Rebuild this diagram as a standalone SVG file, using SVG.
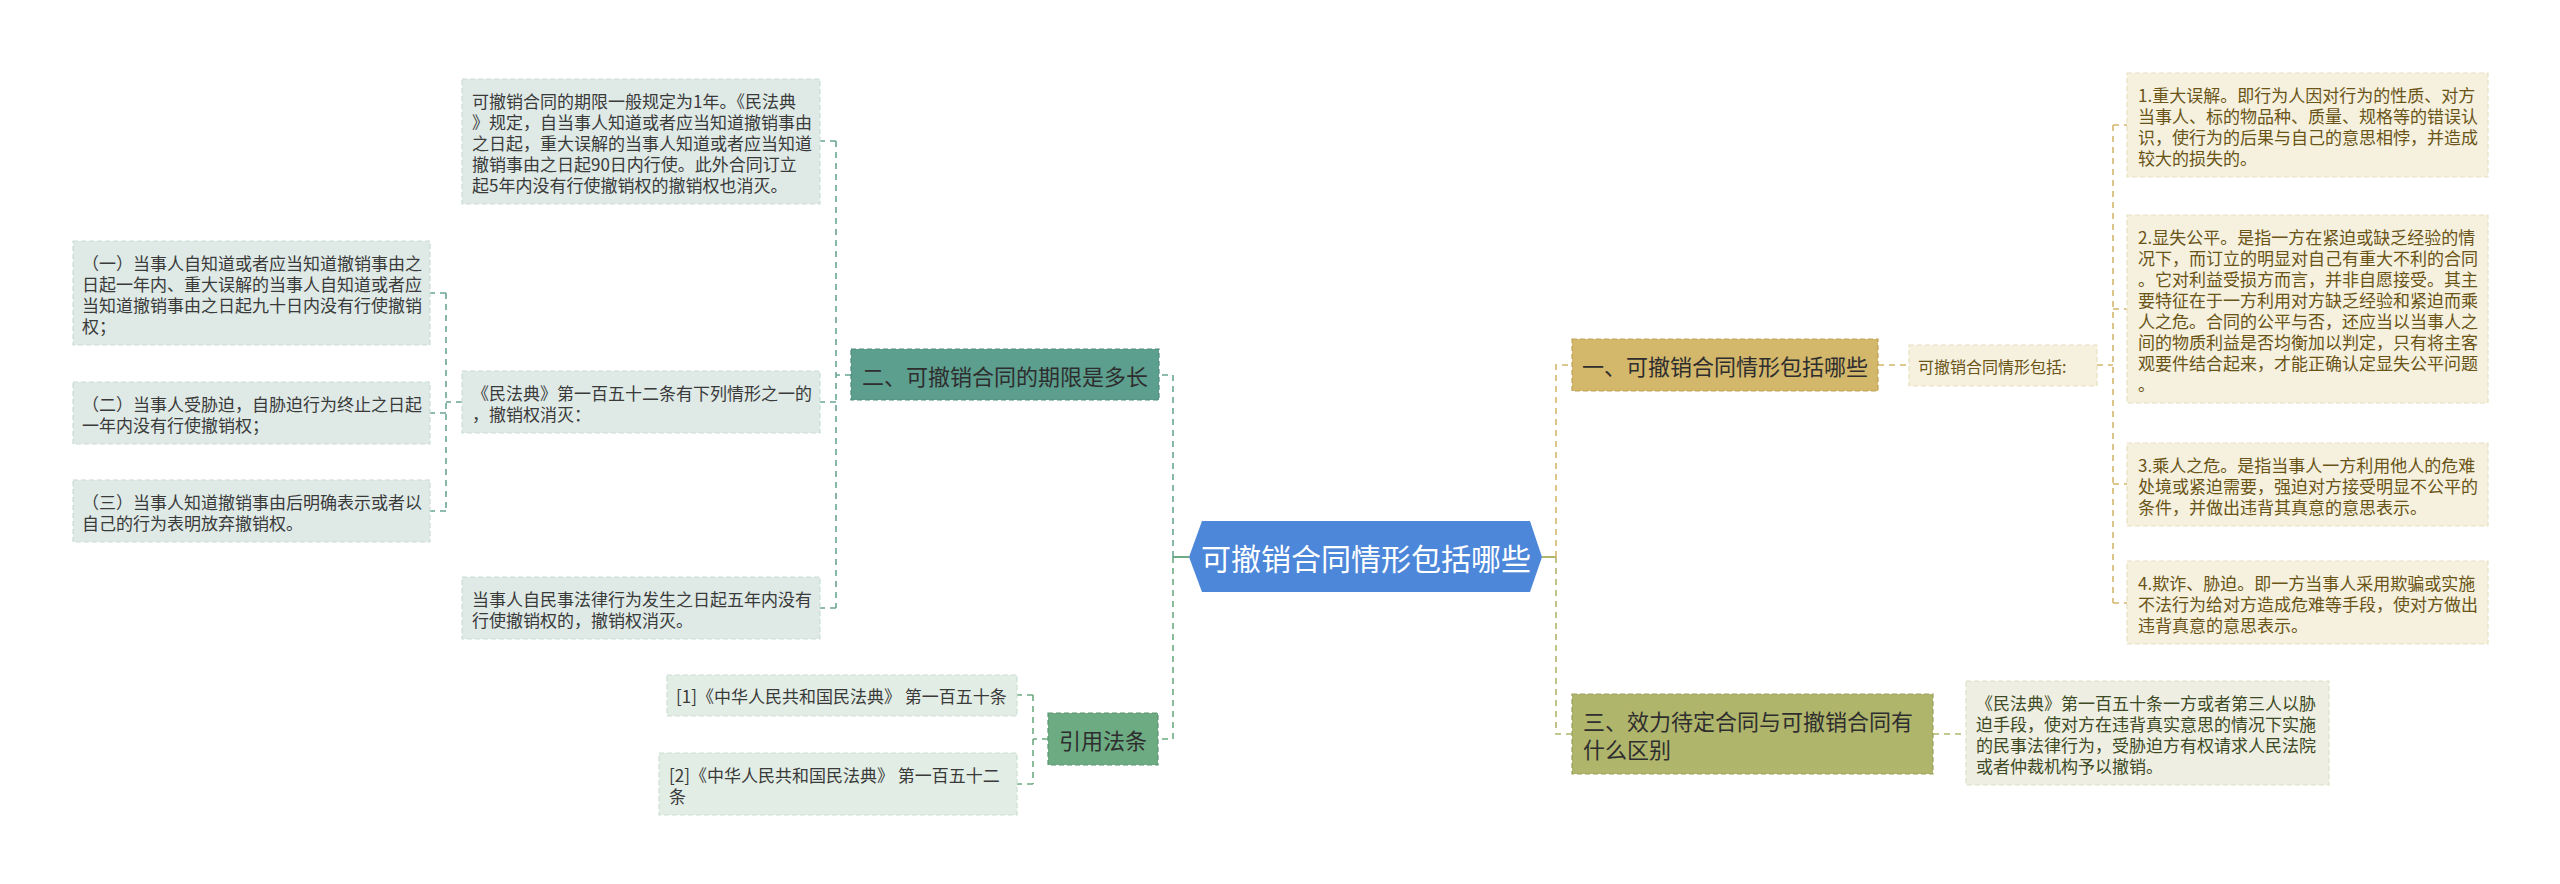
<svg xmlns="http://www.w3.org/2000/svg" width="2560" height="884" viewBox="0 0 2560 884">
<style>
text{font-family:"Noto Sans CJK SC","Noto Sans",sans-serif;dominant-baseline:central}
.t17{font-size:17px}
.t22{font-size:22px}
.dk{fill:#2e2e2e}
.lt{fill:#3a3a3a}
.br{fill:#6a5418}
.ol{fill:#3e4a26}
.leafL{fill:#dfeae7;stroke:#c9dcd7;stroke-width:1.2;stroke-dasharray:5 3}
.leafG{fill:#e2ede5;stroke:#cbe0d1;stroke-width:1.2;stroke-dasharray:5 3}
.leafY{fill:#f5f1de;stroke:#e8e0c2;stroke-width:1.2;stroke-dasharray:5 3}
.leafO{fill:#eeefe2;stroke:#dcdfc6;stroke-width:1.2;stroke-dasharray:5 3}
.cT{fill:none;stroke:#6aa596;stroke-width:1.6;stroke-dasharray:6 5}
.cG{fill:none;stroke:#6dab82;stroke-width:1.6;stroke-dasharray:6 5}
.cY{fill:none;stroke:#d3b76b;stroke-width:1.6;stroke-dasharray:6 5}
.cO{fill:none;stroke:#b0b56c;stroke-width:1.6;stroke-dasharray:6 5}
</style>
<rect width="2560" height="884" fill="#ffffff"/>
<g id="connectors">
  <line x1="1173" y1="557" x2="1189" y2="557" stroke="#6dab82" stroke-width="2"/>
  <line x1="1542" y1="557" x2="1556" y2="557" stroke="#b0b56c" stroke-width="2"/>
  <path class="cT" d="M1173 557 V375 H1159"/>
  <path class="cG" d="M1173 557 V739 H1158"/>
  <path class="cY" d="M1556 557 V365 H1572"/>
  <path class="cO" d="M1556 557 V734 H1572"/>
  <path class="cT" d="M851 375 H836 M836 141 V608 M836 141 H820 M836 402 H820 M836 608 H820"/>
  <path class="cT" d="M462 402 H446 M446 293 V511 M446 293 H430 M446 413 H430 M446 511 H430"/>
  <path class="cG" d="M1048 739 H1033 M1033 695 V784 M1033 695 H1017 M1033 784 H1017"/>
  <path class="cY" d="M1878 365 H1909 M2097 365 H2113 M2113 125 V603 M2113 125 H2127 M2113 309 H2127 M2113 484 H2127 M2113 603 H2127"/>
  <path class="cO" d="M1933 734 H1966"/>
</g>
<g id="center">
  <polygon points="1189,557 1202,521 1530,521 1542,557 1530,592 1202,592" fill="#4d87da"/>
  <text x="1366" y="557" font-size="30" fill="#ffffff" text-anchor="middle">可撤销合同情形包括哪些</text>
</g>
<g id="node-er">
  <rect x="851" y="349" width="308" height="51" fill="#5c9f8f" stroke="#4d8a7b" stroke-width="1.2" stroke-dasharray="5 3"/>
  <text class="t22 dk" x="862" y="375">二、可撤销合同的期限是多长</text>
</g>
<g id="node-yinyong">
  <rect x="1048" y="713" width="110" height="52" fill="#6dab82" stroke="#5a9670" stroke-width="1.2" stroke-dasharray="5 3"/>
  <text class="t22 dk" x="1059" y="739">引用法条</text>
</g>
<g id="leaf-a">
  <rect class="leafL" x="462" y="79" width="358" height="125"/>
  <text class="t17 lt" x="472"><tspan x="472" y="99.5">可撤销合同的期限一般规定为1年。《民法典</tspan><tspan x="472" y="120.5">》规定，自当事人知道或者应当知道撤销事由</tspan><tspan x="472" y="141.5">之日起，重大误解的当事人知道或者应当知道</tspan><tspan x="472" y="162.5">撤销事由之日起90日内行使。此外合同订立</tspan><tspan x="472" y="183.5">起5年内没有行使撤销权的撤销权也消灭。</tspan></text>
</g>
<g id="leaf-b">
  <rect class="leafL" x="462" y="371" width="358" height="62"/>
  <text class="t17 lt"><tspan x="472" y="391.5">《民法典》第一百五十二条有下列情形之一的</tspan><tspan x="472" y="412.5">，撤销权消灭：</tspan></text>
</g>
<g id="leaf-c">
  <rect class="leafL" x="462" y="577" width="358" height="62"/>
  <text class="t17 lt"><tspan x="472" y="597.5">当事人自民事法律行为发生之日起五年内没有</tspan><tspan x="472" y="618.5">行使撤销权的，撤销权消灭。</tspan></text>
</g>
<g id="leaf-b1">
  <rect class="leafL" x="73" y="241" width="357" height="104"/>
  <text class="t17 lt"><tspan x="82" y="261.5">（一）当事人自知道或者应当知道撤销事由之</tspan><tspan x="82" y="282.5">日起一年内、重大误解的当事人自知道或者应</tspan><tspan x="82" y="303.5">当知道撤销事由之日起九十日内没有行使撤销</tspan><tspan x="82" y="324.5">权；</tspan></text>
</g>
<g id="leaf-b2">
  <rect class="leafL" x="73" y="382" width="357" height="62"/>
  <text class="t17 lt"><tspan x="82" y="402.5">（二）当事人受胁迫，自胁迫行为终止之日起</tspan><tspan x="82" y="423.5">一年内没有行使撤销权；</tspan></text>
</g>
<g id="leaf-b3">
  <rect class="leafL" x="73" y="480" width="357" height="62"/>
  <text class="t17 lt"><tspan x="82" y="500.5">（三）当事人知道撤销事由后明确表示或者以</tspan><tspan x="82" y="521.5">自己的行为表明放弃撤销权。</tspan></text>
</g>
<g id="ref-1">
  <rect class="leafG" x="667" y="675" width="350" height="41"/>
  <text class="t17 lt" x="676" y="695.5">[1]《中华人民共和国民法典》 第一百五十条</text>
</g>
<g id="ref-2">
  <rect class="leafG" x="659" y="753" width="358" height="62"/>
  <text class="t17 lt"><tspan x="669" y="773.5">[2]《中华人民共和国民法典》 第一百五十二</tspan><tspan x="669" y="794.5">条</tspan></text>
</g>
<g id="node-yi">
  <rect x="1572" y="339" width="306" height="52" fill="#d3b76b" stroke="#bfa257" stroke-width="1.2" stroke-dasharray="5 3"/>
  <text class="t22 dk" x="1582" y="365">一、可撤销合同情形包括哪些</text>
</g>
<g id="node-yi-sub">
  <rect class="leafY" x="1909" y="345" width="188" height="41"/>
  <text class="br" font-size="16" x="1918" y="365.5">可撤销合同情形包括:</text>
</g>
<g id="leaf-r1">
  <rect class="leafY" x="2127" y="73" width="361" height="104"/>
  <text class="t17 br"><tspan x="2138" y="93.5">1.重大误解。即行为人因对行为的性质、对方</tspan><tspan x="2138" y="114.5">当事人、标的物品种、质量、规格等的错误认</tspan><tspan x="2138" y="135.5">识，使行为的后果与自己的意思相悖，并造成</tspan><tspan x="2138" y="156.5">较大的损失的。</tspan></text>
</g>
<g id="leaf-r2">
  <rect class="leafY" x="2127" y="215" width="361" height="188"/>
  <text class="t17 br"><tspan x="2138" y="235.5">2.显失公平。是指一方在紧迫或缺乏经验的情</tspan><tspan x="2138" y="256.5">况下，而订立的明显对自己有重大不利的合同</tspan><tspan x="2138" y="277.5">。它对利益受损方而言，并非自愿接受。其主</tspan><tspan x="2138" y="298.5">要特征在于一方利用对方缺乏经验和紧迫而乘</tspan><tspan x="2138" y="319.5">人之危。合同的公平与否，还应当以当事人之</tspan><tspan x="2138" y="340.5">间的物质利益是否均衡加以判定，只有将主客</tspan><tspan x="2138" y="361.5">观要件结合起来，才能正确认定显失公平问题</tspan><tspan x="2138" y="382.5">。</tspan></text>
</g>
<g id="leaf-r3">
  <rect class="leafY" x="2127" y="443" width="361" height="83"/>
  <text class="t17 br"><tspan x="2138" y="463.5">3.乘人之危。是指当事人一方利用他人的危难</tspan><tspan x="2138" y="484.5">处境或紧迫需要，强迫对方接受明显不公平的</tspan><tspan x="2138" y="505.5">条件，并做出违背其真意的意思表示。</tspan></text>
</g>
<g id="leaf-r4">
  <rect class="leafY" x="2127" y="561" width="361" height="83"/>
  <text class="t17 br"><tspan x="2138" y="581.5">4.欺诈、胁迫。即一方当事人采用欺骗或实施</tspan><tspan x="2138" y="602.5">不法行为给对方造成危难等手段，使对方做出</tspan><tspan x="2138" y="623.5">违背真意的意思表示。</tspan></text>
</g>
<g id="node-san">
  <rect x="1572" y="694" width="361" height="80" fill="#b0b56c" stroke="#9ca15b" stroke-width="1.2" stroke-dasharray="5 3"/>
  <text class="t22 dk"><tspan x="1583" y="720">三、效力待定合同与可撤销合同有</tspan><tspan x="1583" y="748">什么区别</tspan></text>
</g>
<g id="leaf-r5">
  <rect class="leafO" x="1966" y="681" width="363" height="104"/>
  <text class="t17 ol"><tspan x="1976" y="701.5">《民法典》第一百五十条一方或者第三人以胁</tspan><tspan x="1976" y="722.5">迫手段，使对方在违背真实意思的情况下实施</tspan><tspan x="1976" y="743.5">的民事法律行为，受胁迫方有权请求人民法院</tspan><tspan x="1976" y="764.5">或者仲裁机构予以撤销。</tspan></text>
</g>
</svg>
